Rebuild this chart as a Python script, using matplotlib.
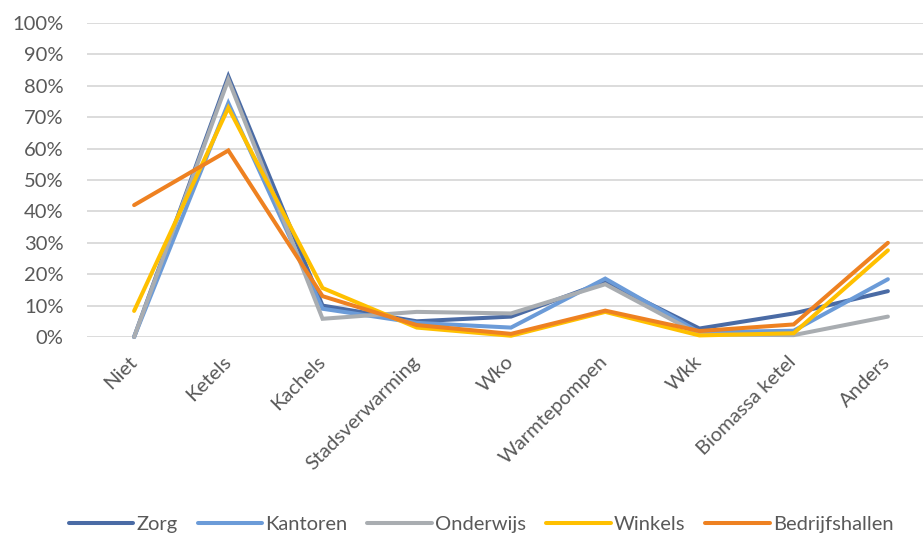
import numpy as np
import matplotlib.pyplot as plt
from matplotlib.ticker import PercentFormatter

categories = ["Niet", "Ketels", "Kachels", "Stadsverwarming", "Wko",
              "Warmtepompen", "Wkk", "Biomassa ketel", "Anders"]

zorg = [0.0, 0.83, 0.10, 0.05, 0.065, 0.176, 0.027, 0.075, 0.146]
kantoren = [0.0, 0.745, 0.09, 0.045, 0.03, 0.186, 0.015, 0.02, 0.184]
onderwijs = [0.0, 0.82, 0.058, 0.08, 0.075, 0.168, 0.008, 0.006, 0.065]
winkels = [0.083, 0.73, 0.156, 0.03, 0.004, 0.08, 0.005, 0.012, 0.276]
bedrijfshallen = [0.42, 0.594, 0.13, 0.038, 0.01, 0.084, 0.019, 0.04, 0.30]

series = [("Zorg", zorg, "#4a6ba5"),
          ("Kantoren", kantoren, "#6b9bd8"),
          ("Onderwijs", onderwijs, "#a9adb1"),
          ("Winkels", winkels, "#ffc000"),
          ("Bedrijfshallen", bedrijfshallen, "#ee8121")]

plt.rcParams['font.family'] = ['Lato', 'DejaVu Sans']

fig = plt.figure(figsize=(9.23, 5.37), dpi=100)
ax = fig.add_axes([87/923, 1-337/537, (935-87)/923, (337-23)/537])

x = np.arange(len(categories))
for name, vals, col in series:
    ax.plot(x, vals, color=col, lw=2.9, label=name, clip_on=False,
            solid_capstyle='round', solid_joinstyle='miter')

ax.set_xlim(-0.5, len(categories)-0.5)
ax.set_ylim(0, 1)
ax.set_yticks(np.arange(0, 1.01, 0.1))
ax.yaxis.set_major_formatter(PercentFormatter(1.0, decimals=0))
ax.grid(axis='y', color='#d9d9d9', lw=1.3)
ax.set_axisbelow(True)
for s in ax.spines.values():
    s.set_visible(False)
ax.tick_params(length=0, labelsize=14.5, colors='#595959')
ax.tick_params(axis='y', pad=17)
ax.set_xticks(x)
ax.set_xticklabels(categories, rotation=45, ha='right', va='center',
                   rotation_mode='anchor')
ax.tick_params(axis='x', pad=16)

fig.legend(loc='center', bbox_to_anchor=(481/923, 1-524/537), ncol=5,
           frameon=False, fontsize=14.5, handlelength=3.2, handletextpad=0.15,
           columnspacing=1.0, labelcolor='#595959')

fig.savefig("out.png", dpi=100)
